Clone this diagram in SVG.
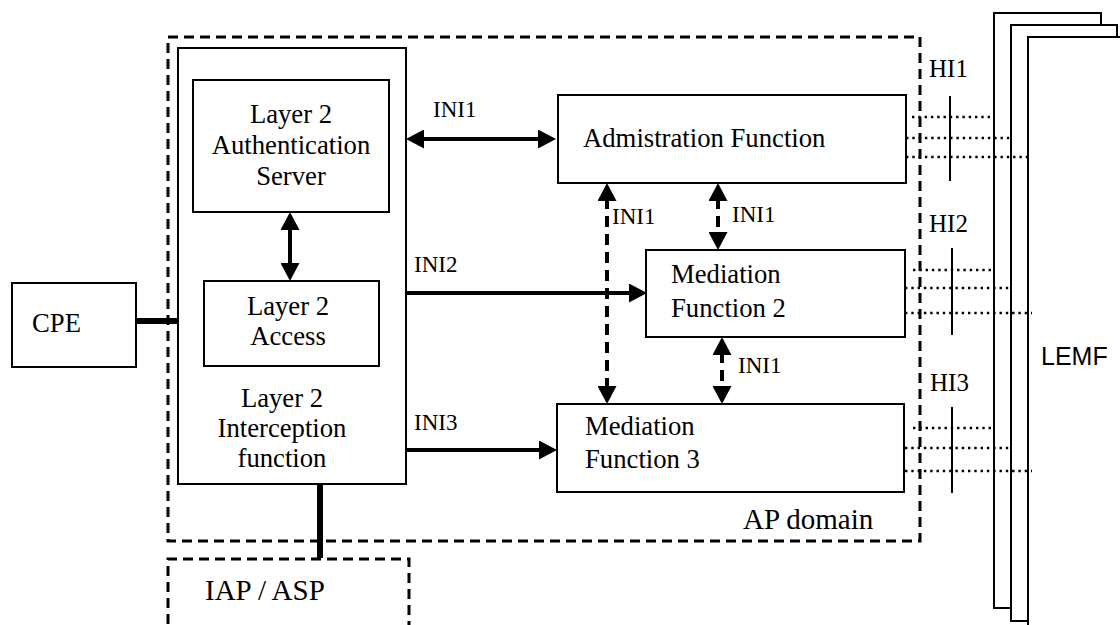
<svg xmlns="http://www.w3.org/2000/svg" width="1120" height="625" viewBox="0 0 1120 625">
<defs>
<style>
.box{fill:#fff;stroke:#000;stroke-width:2}
.dom{fill:none;stroke:#000;stroke-width:3;stroke-dasharray:10 6}
.t{font-family:"Liberation Serif","Times New Roman",serif;font-size:26.7px;fill:#000}
.lab{font-family:"Liberation Serif","Times New Roman",serif;font-size:23px;fill:#000}
.hi{font-family:"Liberation Serif","Times New Roman",serif;font-size:25px;fill:#000}
.big{font-family:"Liberation Serif","Times New Roman",serif;font-size:29px;fill:#000}
.sans{font-family:"Liberation Sans",Arial,sans-serif;font-size:25px;fill:#000}
.arr{stroke:#000;stroke-width:4;fill:none}
.darr{stroke:#000;stroke-width:4;fill:none;stroke-dasharray:11 7}
.thick{stroke:#000;stroke-width:6;fill:none}
.dot{stroke:#000;stroke-width:2.6;fill:none;stroke-dasharray:2.4 3.9}
.tick{stroke:#000;stroke-width:2;fill:none}
</style>
<marker id="ah" viewBox="0 0 18 19" markerUnits="userSpaceOnUse" markerWidth="18" markerHeight="19" refX="3" refY="9.5" orient="auto-start-reverse">
<path d="M0,0 L18,9.5 L0,19 z" fill="#000"/>
</marker>
</defs>

<g id="lemf">
<rect class="box" x="994" y="13" width="107" height="595"/>
<rect class="box" x="1011" y="25" width="106" height="596"/>
<rect class="box" x="1028" y="37" width="120" height="620"/>
<text class="sans" x="1041" y="365">LEMF</text>
</g>

<g id="ap-domain">
<rect class="dom" x="168" y="37" width="752" height="504"/>
<text class="big" x="743" y="529">AP domain</text>
</g>

<g id="iap-asp">
<path class="dom" d="M168,640 V559 H409 V640"/>
<text class="big" x="205" y="600">IAP / ASP</text>
</g>

<g id="cpe">
<rect class="box" x="12" y="283" width="124" height="84"/>
<text class="t" x="32" y="332">CPE</text>
</g>

<g id="interception">
<rect class="box" x="178" y="48" width="228" height="436"/>
<text class="t" text-anchor="middle" x="282" y="407">Layer 2</text>
<text class="t" text-anchor="middle" x="282" y="437">Interception</text>
<text class="t" text-anchor="middle" x="282" y="467">function</text>
</g>

<g id="auth-server">
<rect class="box" x="193" y="80" width="196" height="132"/>
<text class="t" text-anchor="middle" x="291" y="123">Layer 2</text>
<text class="t" text-anchor="middle" x="291" y="154">Authentication</text>
<text class="t" text-anchor="middle" x="291" y="185">Server</text>
</g>

<g id="access">
<rect class="box" x="204" y="281" width="175" height="85"/>
<text class="t" text-anchor="middle" x="288" y="315">Layer 2</text>
<text class="t" text-anchor="middle" x="288" y="345">Access</text>
</g>

<g id="admin">
<rect class="box" x="558" y="95" width="348" height="88"/>
<text class="t" x="583" y="147">Admistration Function</text>
</g>

<g id="med2">
<rect class="box" x="646" y="250" width="259" height="87"/>
<text class="t" x="671" y="283">Mediation</text>
<text class="t" x="671" y="317">Function 2</text>
</g>

<g id="med3">
<rect class="box" x="557" y="404" width="347" height="88"/>
<text class="t" x="585" y="435">Mediation</text>
<text class="t" x="585" y="468">Function 3</text>
</g>

<g id="connectors">
<line class="thick" x1="136" y1="321" x2="178" y2="321"/>
<line class="thick" x1="320" y1="484" x2="320" y2="558"/>
<line class="arr" x1="421" y1="139" x2="541" y2="139" marker-start="url(#ah)" marker-end="url(#ah)"/>
<line class="arr" x1="290" y1="227" x2="290" y2="266" marker-start="url(#ah)" marker-end="url(#ah)"/>
<line class="arr" x1="406" y1="293" x2="632" y2="293" marker-end="url(#ah)"/>
<line class="arr" x1="406" y1="450" x2="542" y2="450" marker-end="url(#ah)"/>
<line class="darr" x1="607" y1="198" x2="607" y2="389" marker-start="url(#ah)" marker-end="url(#ah)"/>
<line class="darr" x1="718" y1="198" x2="718" y2="235" marker-start="url(#ah)" marker-end="url(#ah)"/>
<line class="darr" x1="722" y1="352" x2="722" y2="389" marker-start="url(#ah)" marker-end="url(#ah)"/>
<line class="dot" x1="912" y1="117" x2="995" y2="117"/>
<line class="dot" x1="906" y1="138" x2="1011" y2="138"/>
<line class="dot" x1="906" y1="157" x2="1028" y2="157"/>
<line class="tick" x1="950" y1="96" x2="950" y2="181"/>
<line class="dot" x1="913" y1="270" x2="995" y2="270"/>
<line class="dot" x1="905" y1="288" x2="1011" y2="288"/>
<line class="dot" x1="905" y1="313" x2="1032" y2="313"/>
<line class="tick" x1="952" y1="248" x2="952" y2="335"/>
<line class="dot" x1="913" y1="428" x2="995" y2="428"/>
<line class="dot" x1="905" y1="448" x2="1011" y2="448"/>
<line class="dot" x1="905" y1="471" x2="1032" y2="471"/>
<line class="tick" x1="952" y1="407" x2="952" y2="493"/>
</g>

<g id="labels">
<text class="lab" x="433" y="117">INI1</text>
<text class="lab" x="414" y="272">INI2</text>
<text class="lab" x="414" y="430">INI3</text>
<text class="lab" x="612" y="224">INI1</text>
<text class="lab" x="732" y="222">INI1</text>
<text class="lab" x="738" y="373">INI1</text>
<text class="hi" x="929" y="77">HI1</text>
<text class="hi" x="929" y="232">HI2</text>
<text class="hi" x="930" y="391">HI3</text>
</g>
</svg>
